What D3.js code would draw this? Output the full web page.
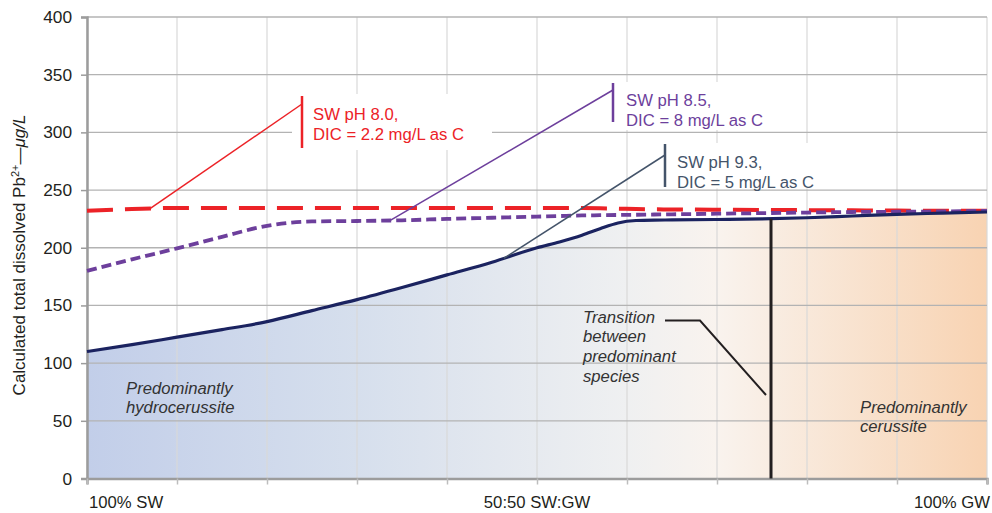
<!DOCTYPE html>
<html>
<head>
<meta charset="utf-8">
<script src="https://cdn.jsdelivr.net/npm/d3@7"></script>
<style>
  html, body { margin: 0; padding: 0; background: #fff; }
  svg { display: block; font-family: "Liberation Sans", Arial, Helvetica, sans-serif; }
</style>
</head>
<body>
<svg id="chart" width="992" height="513"></svg>
<script>
// Mixing fraction, % groundwater (0 = 100% SW, 100 = 100% GW)
const mixPct = [0, 5, 10, 15, 20, 25, 30, 35, 40, 45, 50, 52.5, 55, 57, 59, 61, 63, 65, 70, 75, 80, 85, 90, 95, 100];

// Calculated total dissolved Pb2+ (ug/L) for each surface-water condition
const pbPH93 = [110, 116, 122.5, 129, 136, 145.5, 155, 165.5, 176.5, 187.5, 200, 205, 210.8, 216.5, 221.5, 223.6, 224, 224.1, 224.5, 225, 226, 227.5, 229, 230, 231];
const pbPH85 = [180, 190, 199.5, 209.5, 219, 222.8, 223.2, 223.8, 225, 226, 227, 227.5, 228, 228.2, 228.4, 228.6, 228.8, 229, 229.5, 230, 230.5, 231, 231.2, 231.5, 232];
const pbPH80 = [232, 233.5, 234.5, 234.5, 234.5, 234.5, 234.5, 234.5, 234.5, 234.5, 234.5, 234.5, 234.4, 234.2, 233.9, 233.5, 233.3, 233.2, 233, 232.8, 232.6, 232.4, 232.2, 232.1, 232];

const yTicks = [0, 50, 100, 150, 200, 250, 300, 350, 400];
const xGridPct = [0, 10, 20, 30, 40, 50, 60, 70, 80, 90, 100];
const xTickLabels = [
  { pct: 0, text: "100% SW", anchor: "start" },
  { pct: 50, text: "50:50 SW:GW", anchor: "middle" },
  { pct: 100, text: "100% GW", anchor: "end" }
];
const transitionPct = 76;

const FS = 16.7;
const svg = d3.select("#chart");
const x = d3.scaleLinear().domain([0, 100]).range([87, 987]);
const y = d3.scaleLinear().domain([0, 400]).range([478.5, 17]);

const interp = (arr, p) => {
  const i = d3.bisectRight(mixPct, p) - 1;
  const j = Math.min(i + 1, mixPct.length - 1);
  if (i === j) return arr[i];
  const t = (p - mixPct[i]) / (mixPct[j] - mixPct[i]);
  return arr[i] + t * (arr[j] - arr[i]);
};

// Background gradient under the pH 9.3 curve (hydrocerussite -> cerussite)
const defs = svg.append("defs");
const grad = defs.append("linearGradient").attr("id", "speciesGrad")
  .attr("gradientUnits", "userSpaceOnUse")
  .attr("x1", x(0)).attr("x2", x(100)).attr("y1", 0).attr("y2", 0);
[[0, "#c2cee9"], [0.3, "#d6dfed"], [0.6, "#eff0f1"], [0.7, "#f9f3ee"], [1, "#f8d3b2"]]
  .forEach(([o, c]) => grad.append("stop").attr("offset", o).attr("stop-color", c));

const area = d3.area()
  .x((d, i) => x(mixPct[i]))
  .y0(y(0))
  .y1(d => y(d))
  .curve(d3.curveMonotoneX);
svg.append("path").datum(pbPH93).attr("d", area).attr("fill", "url(#speciesGrad)");

// Grid
svg.append("g").selectAll("line").data(xGridPct).join("line")
  .attr("x1", d => x(d)).attr("x2", d => x(d))
  .attr("y1", y(400)).attr("y2", y(0))
  .attr("stroke", "#d9d9d9").attr("stroke-width", 1.2);
svg.append("g").selectAll("line").data(yTicks.filter(d => d > 0)).join("line")
  .attr("x1", x(0)).attr("x2", x(100))
  .attr("y1", d => y(d)).attr("y2", d => y(d))
  .attr("stroke", "#b3b3b3").attr("stroke-width", 1.3);

// Axes
const yAxis = d3.axisLeft(y).tickValues(yTicks).tickSize(6).tickPadding(9);
const gy = svg.append("g").attr("transform", `translate(${x(0)},0)`).call(yAxis);
gy.select(".domain").attr("stroke", "#9c9c9c").attr("stroke-width", 2.5);
gy.selectAll(".tick line").attr("stroke", "#9c9c9c").attr("stroke-width", 1.5);
gy.selectAll(".tick text").attr("font-size", 17.3).attr("fill", "#231f20")
  .attr("font-family", "Liberation Sans, Arial, sans-serif");

const xAxis = d3.axisBottom(x).tickValues(xGridPct).tickSize(6).tickFormat("");
const gx = svg.append("g").attr("transform", `translate(0,${y(0)})`).call(xAxis);
gx.select(".domain").attr("stroke", "#9c9c9c").attr("stroke-width", 2.5);
gx.selectAll(".tick line").attr("stroke", "#bdbdbd").attr("stroke-width", 1.5);

svg.append("g").selectAll("text").data(xTickLabels).join("text")
  .attr("x", d => x(d.pct) + (d.anchor === "start" ? 2 : d.anchor === "end" ? 3 : 0))
  .attr("y", 507.5)
  .attr("text-anchor", d => d.anchor)
  .attr("font-size", FS).attr("fill", "#231f20")
  .text(d => d.text);

// Y axis title
const yTitle = svg.append("text")
  .attr("transform", "translate(25,255) rotate(-90)")
  .attr("text-anchor", "middle")
  .attr("font-size", 17).attr("fill", "#231f20");
yTitle.append("tspan").text("Calculated total dissolved Pb");
yTitle.append("tspan").attr("font-size", 11).attr("dy", -6).text("2+");
yTitle.append("tspan").attr("dy", 6).text("\u2014");
yTitle.append("tspan").attr("font-style", "italic").text("\u03bcg/L");

// Annotation label backgrounds (hide grid behind the labels)
const boxes = [
  { x0: 292, y0: 94, x1: 492, y1: 150 },
  { x0: 604, y0: 82, x1: 790, y1: 130 },
  { x0: 656, y0: 143, x1: 830, y1: 188.5 }
];
svg.append("g").selectAll("rect").data(boxes).join("rect")
  .attr("x", d => d.x0).attr("y", d => d.y0)
  .attr("width", d => d.x1 - d.x0).attr("height", d => d.y1 - d.y0)
  .attr("fill", "#fff");

// Series lines
const line = d3.line().x((d, i) => x(mixPct[i])).y(d => y(d)).curve(d3.curveMonotoneX);

svg.append("path").datum(pbPH80).attr("d", line)
  .attr("fill", "none").attr("stroke", "#ec2227").attr("stroke-width", 4)
  .attr("stroke-dasharray", "26,12");
svg.append("path").datum(pbPH85).attr("d", line)
  .attr("fill", "none").attr("stroke", "#6d3f9c").attr("stroke-width", 3.8)
  .attr("stroke-dasharray", "10,5");
svg.append("path").datum(pbPH93).attr("d", line)
  .attr("fill", "none").attr("stroke", "#1b2360").attr("stroke-width", 3.2);

// Transition between predominant species
svg.append("line")
  .attr("x1", x(transitionPct)).attr("x2", x(transitionPct))
  .attr("y1", y(interp(pbPH93, transitionPct))).attr("y2", y(0))
  .attr("stroke", "#231f20").attr("stroke-width", 3);
svg.append("polyline")
  .attr("points", `665,320.5 700,320.5 ${x(transitionPct) - 5},395`)
  .attr("fill", "none").attr("stroke", "#231f20").attr("stroke-width", 2);

// Series call-outs
const callouts = [
  { series: pbPH80, pct: 7, color: "#ec2227", bx: 302, by0: 96, by1: 148, ly: 104, tx: 313, ty: 120,
    lines: ["SW pH 8.0,", "DIC = 2.2 mg/L as C"] },
  { series: pbPH85, pct: 33.7, color: "#6d3f9c", bx: 613, by0: 83, by1: 122, ly: 90, tx: 626, ty: 106,
    lines: ["SW pH 8.5,", "DIC = 8 mg/L as C"] },
  { series: pbPH93, pct: 46.3, color: "#44546a", bx: 665, by0: 144, by1: 187, ly: 155, tx: 677, ty: 168,
    lines: ["SW pH 9.3,", "DIC = 5 mg/L as C"] }
];
callouts.forEach(c => {
  svg.append("line")
    .attr("x1", x(c.pct)).attr("y1", y(interp(c.series, c.pct)))
    .attr("x2", c.bx).attr("y2", c.ly)
    .attr("stroke", c.color).attr("stroke-width", 1.5);
  svg.append("line")
    .attr("x1", c.bx).attr("x2", c.bx).attr("y1", c.by0).attr("y2", c.by1)
    .attr("stroke", c.color).attr("stroke-width", 2.5);
  c.lines.forEach((t, k) => {
    svg.append("text").attr("x", c.tx).attr("y", c.ty + k * 19.5)
      .attr("font-size", FS).attr("fill", c.color).text(t);
  });
});

// Region labels
const italicBlocks = [
  { x: 583, y: 322.5, lines: ["Transition", "between", "predominant", "species"] },
  { x: 126, y: 393.5, lines: ["Predominantly", "hydrocerussite"] },
  { x: 860, y: 412.5, lines: ["Predominantly", "cerussite"] }
];
italicBlocks.forEach(b => {
  b.lines.forEach((t, k) => {
    svg.append("text").attr("x", b.x).attr("y", b.y + k * 19.7)
      .attr("font-size", FS).attr("font-style", "italic").attr("fill", "#333")
      .text(t);
  });
});
</script>
</body>
</html>
